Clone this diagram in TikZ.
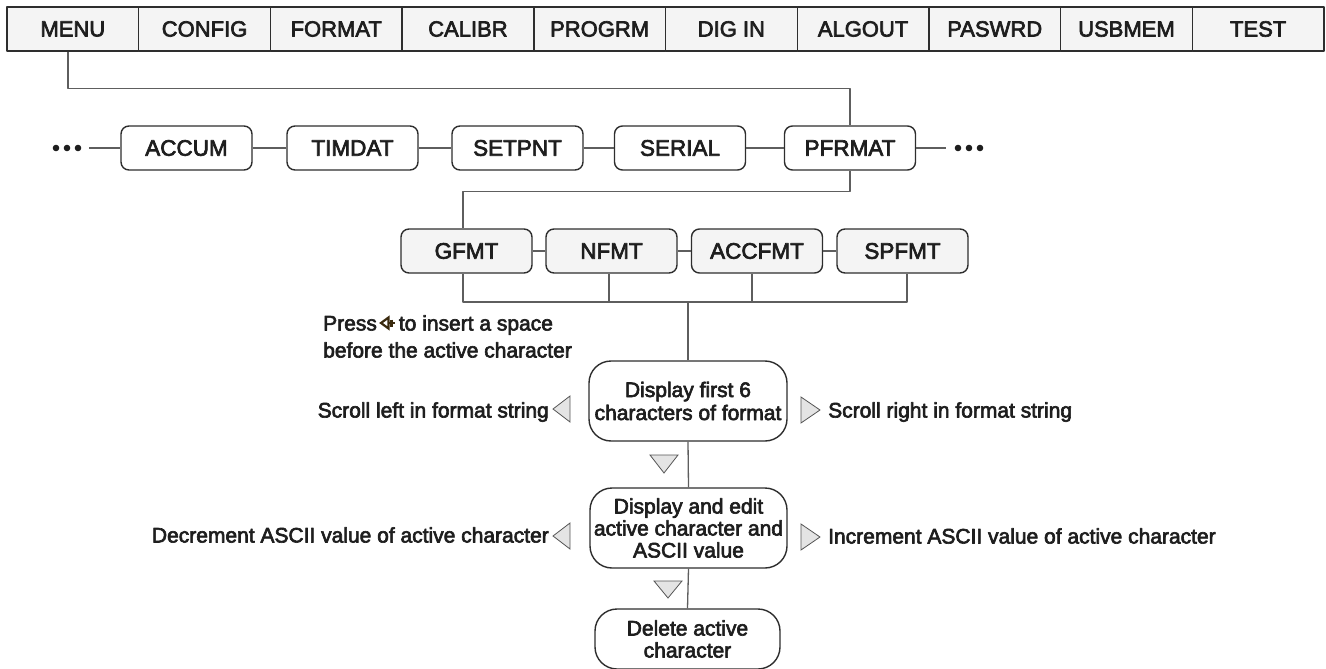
\documentclass[tikz,border=0pt]{standalone}
\usepackage{fontspec}
\setmainfont{Liberation Sans}[FakeBold=3]
\definecolor{edge}{HTML}{2E2E2E}
\definecolor{linec}{HTML}{5E5E5E}
\definecolor{barfill}{HTML}{F4F4F4}
\definecolor{txt}{HTML}{1E1E1E}
\definecolor{trifill}{HTML}{E4E4E4}
\definecolor{tric}{HTML}{555555}
\definecolor{iconc}{HTML}{3A2A0E}
\begin{document}
\begin{tikzpicture}[x=1pt,y=-1pt,line join=round,
  bar/.style={draw=edge,fill=barfill,line width=1.4pt,minimum width=131.7pt,minimum height=44pt,inner sep=0pt,text=txt,font=\fontsize{22}{24}\selectfont},
  rowbox/.style={draw=edge,fill=white,rounded corners=8pt,line width=1.4pt,minimum width=131pt,minimum height=44pt,inner sep=0pt,text=txt,font=\fontsize{22.5}{24}\selectfont},
  fmtbox/.style={rowbox,fill=barfill},
  flowbox/.style={draw=edge,fill=white,rounded corners=22pt,line width=1.4pt,inner sep=0pt,align=center,text=txt,font=\fontsize{21}{22}\selectfont},
  conn/.style={draw=linec,line width=1.3pt},
  lbl/.style={inner sep=0pt,text=txt,font=\fontsize{21}{27}\selectfont},
  tri/.style={draw=tric,fill=trifill,line width=0.8pt,line join=miter},
  icon/.style={draw=iconc,line width=2.2pt,line join=miter},
  dot/.style={fill=txt}]
\useasboundingbox (0,0) rectangle (1326,669);

% top menu bar
\foreach \t [count=\i from 0] in {MENU,CONFIG,FORMAT,CALIBR,PROGRM,DIG IN,ALGOUT,PASWRD,USBMEM,TEST}
  \node[bar] (b\i) at ({7+131.7*(\i+0.5)},29) {\t};

% second row
\node[rowbox] (accum)  at (186.5,148) {ACCUM};
\node[rowbox] (timdat) at (352.5,148) {TIMDAT};
\node[rowbox] (setpnt) at (517.5,148) {SETPNT};
\node[rowbox] (serial) at (680,148)   {SERIAL};
\node[rowbox] (pfrmat) at (850,148)   {PFRMAT};
\coordinate (dotL) at (89,148);
\coordinate (dotR) at (946,148);
\fill[dot] (56,148) circle (3.3) (67,148) circle (3.3) (78,148) circle (3.3);
\fill[dot] (958,148) circle (3.3) (969,148) circle (3.3) (980,148) circle (3.3);
\draw[conn] (dotL) -- (accum);
\draw[conn] (accum) -- (timdat);
\draw[conn] (timdat) -- (setpnt);
\draw[conn] (setpnt) -- (serial);
\draw[conn] (serial) -- (pfrmat);
\draw[conn] (pfrmat) -- (dotR);
\draw[conn] ([xshift=-4.85pt]b0.south) -- ++(0,37) -| (pfrmat.north);

% third row
\node[fmtbox] (gfmt)   at (466.5,251) {GFMT};
\node[fmtbox] (nfmt)   at (611.5,251) {NFMT};
\node[fmtbox] (accfmt) at (757,251)   {ACCFMT};
\node[fmtbox] (spfmt)  at (902.5,251) {SPFMT};
\draw[conn] (gfmt) -- (nfmt);
\draw[conn] (nfmt) -- (accfmt);
\draw[conn] (accfmt) -- (spfmt);
\draw[conn] (pfrmat.south) -- ++(0,21) -| ([xshift=-3.5pt]gfmt.north);

\coordinate (bus) at (688,302);
\draw[conn] ([xshift=-3.5pt]gfmt.south) |- (bus) -| ([xshift=4.5pt]spfmt.south);
\draw[conn] ([xshift=-2.5pt]nfmt.south) -- ([xshift=-2.5pt]nfmt.south |- bus);
\draw[conn] ([xshift=-5pt]accfmt.south) -- ([xshift=-5pt]accfmt.south |- bus);

% flow boxes
\node[flowbox,minimum width=198pt,minimum height=80pt] (box1) at (688,401) {Display first 6\\[1pt]characters of format};
\node[flowbox,minimum width=197pt,minimum height=80pt] (box2) at (688.5,528) {Display and edit\\active character and\\ASCII value};
\node[flowbox,minimum width=185pt,minimum height=60pt] (box3) at (687.5,639) {Delete active\\character};
\draw[conn] (bus) -- (box1.north);
\draw[conn] (box1.south) -- (box2.north);
\draw[conn] (box2.south) -- (box3.north);

% press label (icon drawn beside the text)
\node[lbl,anchor=base west,align=left] (press) at (323,357.5)
  {Press\hspace{22pt}to insert a space\\before the active character};
\draw[icon] (381,323) -- (388.5,317.5) -- (388.5,328.5) -- cycle;
\draw[icon] (388.5,323) -- (394.5,323);
\draw[icon] (391.5,319.5) -- (391.5,326.5);

% side labels
\node[lbl,anchor=base east] (scrl) at (549,417.5) {Scroll left in format string};
\node[lbl,anchor=base west] (scrr) at (828,417.5) {Scroll right in format string};
\node[lbl,anchor=base east] (decr) at (549,542.5) {Decrement ASCII value of active character};
\node[lbl,anchor=base west] (incr) at (828,543.5) {Increment ASCII value of active character};

% triangles
\filldraw[tri] (570,396) -- (553,409) -- (570,422) -- cycle;
\filldraw[tri] (570,523) -- (553,536) -- (570,549) -- cycle;
\filldraw[tri] (801,397) -- (820,410) -- (801,423) -- cycle;
\filldraw[tri] (801,524) -- (820,537) -- (801,550) -- cycle;
\filldraw[tri] (650,455) -- (678,455) -- (664,473) -- cycle;
\filldraw[tri] (654,581) -- (682,581) -- (668,598) -- cycle;
\end{tikzpicture}
\end{document}
